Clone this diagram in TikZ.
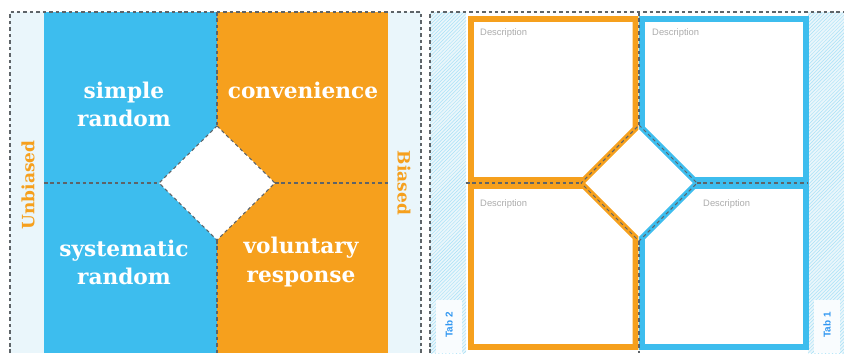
\documentclass[tikz,border=0pt]{standalone}
\usepackage{fontspec}
\newfontfamily\slabfont{DejaVu Serif}
\newfontfamily\descfont{Liberation Sans}
\usetikzlibrary{patterns}
\definecolor{skyblue}{HTML}{3DBDEE}
\definecolor{foldorange}{HTML}{F6A01D}
\definecolor{paleblue}{HTML}{EAF6FB}
\definecolor{foldgray}{HTML}{5E6468}
\tikzset{
  foldline/.style={draw=foldgray, line width=0.9pt, dash pattern=on 3pt off 2.5pt},
  flapname/.style={text=white, font=\slabfont\bfseries\fontsize{18.5}{24}\selectfont, align=center, inner sep=0pt},
  sidename/.style={text=foldorange, font=\slabfont\bfseries\fontsize{14.5}{16}\selectfont, inner sep=0pt},
  flapframe/.style={line width=5pt, fill=white, line join=miter},
  desc/.style={text=gray!65, font=\descfont\fontsize{8}{9}\selectfont, anchor=north west, inner sep=0pt},
  tabname/.style={text=skyblue!80!blue, font=\descfont\bfseries\fontsize{8.5}{9}\selectfont, rotate=90, inner sep=0pt}
}
\begin{document}
\begin{tikzpicture}[x=0.03cm, y=-0.03cm]
  \useasboundingbox (0,0) rectangle (844,353);

  % Front side: strips and coloured flaps
  \fill[paleblue] (10,12) rectangle (44,353);
  \fill[skyblue] (44,12) rectangle (217,353);
  \fill[foldorange] (217,12) rectangle (388,353);
  \fill[paleblue] (388,12) rectangle (421,353);

  % Front side: centre square
  \coordinate (ft) at (217,126);   % top
  \coordinate (fr) at (275,183);   % right
  \coordinate (fb) at (217,240);   % bottom
  \coordinate (fl) at (159,183);   % left
  \fill[white] (ft) -- (fr) -- (fb) -- (fl) -- cycle;

  % Front side: fold lines
  \coordinate (fc1) at (217,12);
  \coordinate (fc2) at (217,353);
  \coordinate (fc3) at (44,183);
  \coordinate (fc4) at (388,183);
  \draw[foldline] (fc1) -- (ft);
  \draw[foldline] (fb) -- (fc2);
  \draw[foldline] (fc3) -- (fl);
  \draw[foldline] (fr) -- (fc4);
  \draw[foldline] (ft) -- (fr) -- (fb) -- (fl) -- cycle;
  \draw[foldline] (10,353) -- (10,12) -- (421,12) -- (421,353);

  % Front side: labels
  \node[flapname] (srs) at (124,104) {simple\\random};
  \node[flapname] (conv) at (303,90) {convenience};
  \node[flapname] (sys) at (124,262) {systematic\\random};
  \node[flapname] (vol) at (301,262) {voluntary\\response};
  \node[sidename, rotate=90] (unb) at (28,185) {Unbiased};
  \node[sidename, rotate=-90] (bia) at (404,183) {Biased};

  % Back side: hatched tabs
  \fill[paleblue] (430,12) rectangle (466,353);
  \fill[paleblue] (808,12) rectangle (844,353);
  \fill[pattern=north east lines, pattern color=skyblue!45] (430,12) rectangle (466,353);
  \fill[pattern=north east lines, pattern color=skyblue!45] (808,12) rectangle (844,353);
  \fill[white!70!paleblue] (436,300) rectangle (462,353);
  \fill[white!70!paleblue] (814,300) rectangle (840,353);
  \node[tabname] (tab2) at (449,325) {Tab 2};
  \node[tabname] (tab1) at (827,325) {Tab 1};

  % Back side: centre square
  \coordinate (bt) at (639,125);   % top
  \coordinate (br) at (697,183);   % right
  \coordinate (bb) at (639,241);   % bottom
  \coordinate (bl) at (581,183);   % left

  % Back side: flap frames
  \draw[flapframe, draw=foldorange] (471,19) -- (635.5,19) -- (635.5,128.5) -- (584,180) -- (471,180) -- cycle;
  \draw[flapframe, draw=foldorange] (471,186) -- (584,186) -- (635.5,237.5) -- (635.5,347) -- (471,347) -- cycle;
  \draw[flapframe, draw=skyblue] (642,19) -- (806,19) -- (806,180) -- (694,180) -- (642,128) -- cycle;
  \draw[flapframe, draw=skyblue] (694,186) -- (806,186) -- (806,347) -- (642,347) -- (642,238) -- cycle;

  % Back side: fold lines
  \coordinate (bc1) at (639,12);
  \coordinate (bc2) at (639,353);
  \coordinate (bc3) at (466,183);
  \coordinate (bc4) at (808,183);
  \draw[foldline] (bc1) -- (bt);
  \draw[foldline] (bb) -- (bc2);
  \draw[foldline] (bc3) -- (bl);
  \draw[foldline] (br) -- (bc4);
  \draw[foldline] (bt) -- (br) -- (bb) -- (bl) -- cycle;
  \draw[foldline] (430,353) -- (430,12) -- (844,12);

  % Back side: description labels
  \node[desc] (d1) at (480,28) {Description};
  \node[desc] (d2) at (652,28) {Description};
  \node[desc] (d3) at (480,199) {Description};
  \node[desc] (d4) at (703,199) {Description};
\end{tikzpicture}
\end{document}
